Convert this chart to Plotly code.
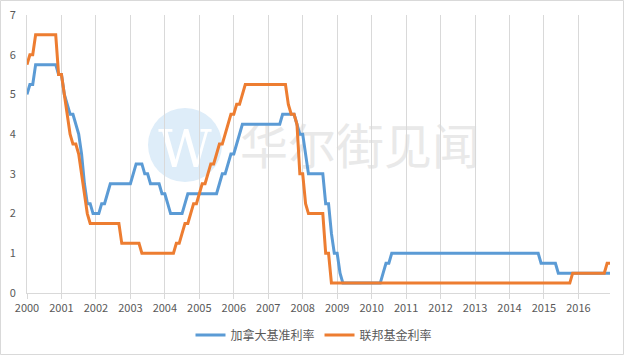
import plotly.graph_objects as go

# ---- data (monthly, Jan 2000 .. Dec 2016) ----
years = [str(y) for y in range(2000, 2017)]
months = [f"{y}-{m:02d}" for y in range(2000, 2017) for m in range(1, 13)]

boc_rate = [
    5.0, 5.25, 5.25, 5.75, 5.75, 5.75, 5.75, 5.75, 5.75, 5.75, 5.75, 5.5,     # 2000
    5.5, 5.0, 4.75, 4.5, 4.5, 4.25, 4.0, 3.5, 2.75, 2.25, 2.25, 2.0,          # 2001
    2.0, 2.0, 2.25, 2.25, 2.5, 2.75, 2.75, 2.75, 2.75, 2.75, 2.75, 2.75,      # 2002
    2.75, 3.0, 3.25, 3.25, 3.25, 3.0, 3.0, 2.75, 2.75, 2.75, 2.75, 2.5,       # 2003
    2.5, 2.25, 2.0, 2.0, 2.0, 2.0, 2.0, 2.25, 2.5, 2.5, 2.5, 2.5,             # 2004
    2.5, 2.5, 2.5, 2.5, 2.5, 2.5, 2.5, 2.75, 3.0, 3.0, 3.25, 3.5,             # 2005
    3.5, 3.75, 4.0, 4.25, 4.25, 4.25, 4.25, 4.25, 4.25, 4.25, 4.25, 4.25,     # 2006
    4.25, 4.25, 4.25, 4.25, 4.25, 4.5, 4.5, 4.5, 4.5, 4.5, 4.25, 4.0,         # 2007
    4.0, 3.5, 3.0, 3.0, 3.0, 3.0, 3.0, 3.0, 2.25, 2.25, 1.5, 1.0,             # 2008
    1.0, 0.5, 0.25, 0.25, 0.25, 0.25, 0.25, 0.25, 0.25, 0.25, 0.25, 0.25,     # 2009
    0.25, 0.25, 0.25, 0.25, 0.5, 0.75, 0.75, 1.0, 1.0, 1.0, 1.0, 1.0,         # 2010
    1.0, 1.0, 1.0, 1.0, 1.0, 1.0, 1.0, 1.0, 1.0, 1.0, 1.0, 1.0,               # 2011
    1.0, 1.0, 1.0, 1.0, 1.0, 1.0, 1.0, 1.0, 1.0, 1.0, 1.0, 1.0,               # 2012
    1.0, 1.0, 1.0, 1.0, 1.0, 1.0, 1.0, 1.0, 1.0, 1.0, 1.0, 1.0,               # 2013
    1.0, 1.0, 1.0, 1.0, 1.0, 1.0, 1.0, 1.0, 1.0, 1.0, 1.0, 0.75,              # 2014
    0.75, 0.75, 0.75, 0.75, 0.75, 0.5, 0.5, 0.5, 0.5, 0.5, 0.5, 0.5,          # 2015
    0.5, 0.5, 0.5, 0.5, 0.5, 0.5, 0.5, 0.5, 0.5, 0.5, 0.5, 0.5,               # 2016
]

fed_rate = [
    5.75, 6.0, 6.0, 6.5, 6.5, 6.5, 6.5, 6.5, 6.5, 6.5, 6.5, 5.5,              # 2000
    5.5, 5.0, 4.5, 4.0, 3.75, 3.75, 3.5, 3.0, 2.5, 2.0, 1.75, 1.75,           # 2001
    1.75, 1.75, 1.75, 1.75, 1.75, 1.75, 1.75, 1.75, 1.75, 1.25, 1.25, 1.25,   # 2002
    1.25, 1.25, 1.25, 1.25, 1.0, 1.0, 1.0, 1.0, 1.0, 1.0, 1.0, 1.0,           # 2003
    1.0, 1.0, 1.0, 1.0, 1.25, 1.25, 1.5, 1.75, 1.75, 2.0, 2.25, 2.25,         # 2004
    2.5, 2.75, 2.75, 3.0, 3.25, 3.25, 3.5, 3.75, 3.75, 4.0, 4.25, 4.5,        # 2005
    4.5, 4.75, 4.75, 5.0, 5.25, 5.25, 5.25, 5.25, 5.25, 5.25, 5.25, 5.25,     # 2006
    5.25, 5.25, 5.25, 5.25, 5.25, 5.25, 5.25, 4.75, 4.5, 4.5, 4.25, 3.0,      # 2007
    3.0, 2.25, 2.0, 2.0, 2.0, 2.0, 2.0, 2.0, 1.0, 1.0, 0.25, 0.25,            # 2008
    0.25, 0.25, 0.25, 0.25, 0.25, 0.25, 0.25, 0.25, 0.25, 0.25, 0.25, 0.25,   # 2009
    0.25, 0.25, 0.25, 0.25, 0.25, 0.25, 0.25, 0.25, 0.25, 0.25, 0.25, 0.25,   # 2010
    0.25, 0.25, 0.25, 0.25, 0.25, 0.25, 0.25, 0.25, 0.25, 0.25, 0.25, 0.25,   # 2011
    0.25, 0.25, 0.25, 0.25, 0.25, 0.25, 0.25, 0.25, 0.25, 0.25, 0.25, 0.25,   # 2012
    0.25, 0.25, 0.25, 0.25, 0.25, 0.25, 0.25, 0.25, 0.25, 0.25, 0.25, 0.25,   # 2013
    0.25, 0.25, 0.25, 0.25, 0.25, 0.25, 0.25, 0.25, 0.25, 0.25, 0.25, 0.25,   # 2014
    0.25, 0.25, 0.25, 0.25, 0.25, 0.25, 0.25, 0.25, 0.25, 0.25, 0.5, 0.5,     # 2015
    0.5, 0.5, 0.5, 0.5, 0.5, 0.5, 0.5, 0.5, 0.5, 0.5, 0.75, 0.75,             # 2016
]

series_names = ["加拿大基准利率", "联邦基金利率"]
y_ticks = [0, 1, 2, 3, 4, 5, 6, 7]
year_ticks = [f"{y}-01" for y in years]

FONT = "Noto Sans CJK SC, Open Sans, sans-serif"
W, H = 625, 356
ML, MR, MT, MB = 27, 15, 15, 63
PW, PH = W - ML - MR, H - MT - MB

def px_x(p):
    return (p - ML) / PW

def px_y(p):
    return (H - MB - p) / PH

fig = go.Figure()
fig.add_trace(go.Scatter(x=months, y=boc_rate, name=series_names[0], mode="lines",
                         line=dict(color="#5b9bd5", width=3)))
fig.add_trace(go.Scatter(x=months, y=fed_rate, name=series_names[1], mode="lines",
                         line=dict(color="#ed7d31", width=3)))

shapes = [
    # watermark circle
    dict(type="circle", xref="paper", yref="paper", layer="below",
         x0=px_x(148), x1=px_x(222), y0=px_y(182), y1=px_y(108),
         fillcolor="#deedf9", line=dict(width=0),
         label=dict(text="W", font=dict(family="DejaVu Serif, serif", size=52, color="white"))),
    # watermark text box
    dict(type="rect", xref="paper", yref="paper", layer="below",
         x0=px_x(236), x1=px_x(484), y0=px_y(182), y1=px_y(120),
         fillcolor="rgba(0,0,0,0)", line=dict(width=0),
         label=dict(text="华尔街见闻", font=dict(family="Noto Sans CJK SC", size=48, color="#e9e9e9"))),
    # outer chart border
    dict(type="rect", xref="paper", yref="paper", layer="above",
         x0=px_x(0.5), x1=px_x(623.5), y0=px_y(354.5), y1=px_y(0.5),
         line=dict(color="#d9d9d9", width=1), fillcolor="rgba(0,0,0,0)"),
]

fig.update_layout(
    width=W, height=H,
    margin=dict(l=ML, r=MR, t=MT, b=MB, autoexpand=False),
    paper_bgcolor="white", plot_bgcolor="white",
    font=dict(family=FONT, size=11, color="#595959"),
    showlegend=True,
    legend=dict(orientation="h", x=px_x(314), xanchor="center", y=px_y(335), yanchor="middle",
                font=dict(size=12, color="#595959"), itemwidth=30, tracegroupgap=0),
    shapes=shapes,
)
fig.update_xaxes(type="category", range=[0, len(months) - 1], automargin=False,
                 tickmode="array", tickvals=year_ticks, ticktext=years,
                 showgrid=True, gridcolor="#d9d9d9", gridwidth=1,
                 showline=True, linecolor="#d9d9d9", linewidth=1,
                 ticks="outside", ticklen=5, tickcolor="#d9d9d9",
                 tickfont=dict(size=11, color="#595959"), tickangle=0)
fig.update_yaxes(range=[0, 7], tickmode="array", tickvals=y_ticks, automargin=False,
                 showgrid=False, zeroline=False,
                 showline=True, linecolor="#d9d9d9", linewidth=1,
                 ticks="", tickfont=dict(size=11, color="#595959"), ticklabelstandoff=8)

fig.write_html("out.html", config={"displayModeBar": False},
               post_script="document.body.style.margin='0';")
